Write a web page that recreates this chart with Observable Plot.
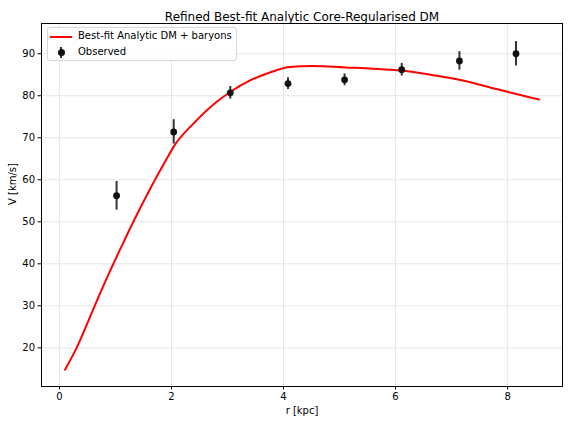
<!DOCTYPE html>
<html>
<head>
<meta charset="utf-8">
<script src="https://cdn.jsdelivr.net/npm/d3@7"></script>
<script src="https://cdn.jsdelivr.net/npm/@observablehq/plot@0.6"></script>
<style>
  body { margin: 0; background: #fff; font-family: "DejaVu Sans", sans-serif; }
  #wrap { position: relative; width: 568px; height: 424px; }
  .legend { position: absolute; left: 47px; top: 27px; width: 188px; height: 32px;
    border: 1px solid #d6d6d6; border-radius: 3px; background: rgba(255,255,255,0.85);
    font: 10px "DejaVu Sans", sans-serif; color: #000; }
  .legend .row { position: absolute; left: 0; height: 14px; line-height: 14px; }
  .legend .lbl { position: absolute; left: 30px; white-space: nowrap; }
</style>
</head>
<body>
<div id="wrap"></div>
<script>
// Observed data
const obsR = [1.02, 2.04, 3.05, 4.08, 5.09, 6.11, 7.14, 8.15];
const obsV = [56.2, 71.4, 80.7, 82.9, 83.8, 86.2, 88.3, 90.0];
const obsErr = [3.4, 2.9, 1.5, 1.4, 1.4, 1.5, 2.2, 2.9];

// Best-fit model curve
const fitR = [0.1, 0.3, 0.5, 0.7, 0.9, 1.09, 1.33, 1.63, 1.92, 2.04, 2.4, 2.82, 3.05, 3.41, 3.77, 4.07, 4.3, 4.54, 5.1, 5.6, 6.1, 6.6, 7.14, 7.8, 8.56];
const fitV = [14.8, 19.8, 25.9, 32.2, 38.2, 43.6, 50.3, 58.1, 65.1, 67.9, 73.5, 78.7, 80.9, 83.7, 85.6, 86.8, 87.05, 87.1, 86.75, 86.45, 86.0, 85.05, 83.8, 81.6, 79.1];

const xTicks = [0, 2, 4, 6, 8];
const yTicks = [20, 30, 40, 50, 60, 70, 80, 90];

const obs = obsR.map((r, i) => ({r, v: obsV[i], lo: obsV[i] - obsErr[i], hi: obsV[i] + obsErr[i]}));
const fit = fitR.map((r, i) => ({r, v: fitV[i]}));

const chart = Plot.plot({
  width: 568,
  height: 424,
  marginLeft: 41,
  marginRight: 6,
  marginTop: 23,
  marginBottom: 38,
  style: {fontFamily: "DejaVu Sans, sans-serif", fontSize: "10px", color: "#000", background: "#fff"},
  x: {domain: [-0.32, 8.98], ticks: xTicks, label: null},
  y: {domain: [10.8, 97.2], ticks: yTicks, label: null},
  marks: [
    Plot.gridX(xTicks, {stroke: "#e6e6e6", strokeOpacity: 1}),
    Plot.gridY(yTicks, {stroke: "#e6e6e6", strokeOpacity: 1}),
    Plot.axisX(xTicks, {tickSize: 3.5, tickPadding: 3, fontSize: 10, label: null}),
    Plot.axisY(yTicks, {tickSize: 3.5, tickPadding: 3, fontSize: 10, label: null}),
    Plot.line(fit, {x: "r", y: "v", stroke: "#ff0000", strokeWidth: 2, curve: "monotone-x"}),
    Plot.ruleX(obs, {x: "r", y1: "lo", y2: "hi", stroke: "#333", strokeWidth: 2}),
    Plot.dot(obs, {x: "r", y: "v", r: 3.4, fill: "#111", stroke: null}),
    Plot.frame({stroke: "#000", strokeWidth: 1}),
    Plot.text(["Refined Best-fit Analytic Core-Regularised DM"], {frameAnchor: "top", dy: -11, fontSize: 12, fill: "#000"}),
    Plot.text(["r [kpc]"], {frameAnchor: "bottom", dy: 27, fontSize: 10, fill: "#000"}),
    Plot.text(["V [km/s]"], {frameAnchor: "left", dx: -29, rotate: -90, fontSize: 10, fill: "#000"})
  ]
});

const wrap = document.getElementById("wrap");
wrap.appendChild(chart);

const legend = document.createElement("div");
legend.className = "legend";
legend.innerHTML = `
  <div class="row" style="top:1px;width:188px">
    <div style="position:absolute;left:2px;top:7px;width:22px;height:2px;background:#ff0000"></div>
    <span class="lbl">Best-fit Analytic DM + baryons</span>
  </div>
  <div class="row" style="top:17px;width:188px">
    <div style="position:absolute;left:12px;top:2px;width:2px;height:11px;background:#333"></div>
    <div style="position:absolute;left:9.5px;top:4px;width:7px;height:7px;border-radius:50%;background:#111"></div>
    <span class="lbl">Observed</span>
  </div>`;
wrap.appendChild(legend);
</script>
</body>
</html>
